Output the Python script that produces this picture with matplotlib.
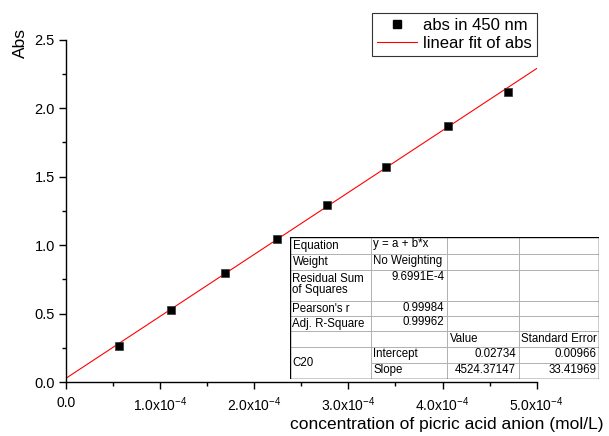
import matplotlib
matplotlib.use("Agg")
import matplotlib.pyplot as plt
from matplotlib.ticker import MultipleLocator, FixedLocator
from matplotlib.lines import Line2D

plt.rcParams['font.family'] = ['Liberation Sans', 'DejaVu Sans']
plt.rcParams['mathtext.fontset'] = 'custom'
plt.rcParams['mathtext.rm'] = 'Liberation Sans'
plt.rcParams['mathtext.it'] = 'Liberation Sans:italic'
plt.rcParams['mathtext.default'] = 'regular'

# data
conc = [0.563e-4, 1.116e-4, 1.69e-4, 2.24e-4, 2.77e-4, 3.40e-4, 4.06e-4, 4.69e-4]
absorb = [0.265, 0.524, 0.798, 1.045, 1.29, 1.57, 1.87, 2.12]
intercept = 0.02734
slope = 4524.37147
fit_x = [0.0, 5.0e-4]
xticks = [0.0, 1e-4, 2e-4, 3e-4, 4e-4, 5e-4]
xticklabels = ['0.0', r'1.0x10$^{-4}$', r'2.0x10$^{-4}$', r'3.0x10$^{-4}$',
               r'4.0x10$^{-4}$', r'5.0x10$^{-4}$']
yticks = [0.0, 0.5, 1.0, 1.5, 2.0, 2.5]

W, H = 609, 436
fig = plt.figure(figsize=(W/100, H/100), dpi=100)
L, R, B, T = 66, 536.7, 382, 39.7
ax = fig.add_axes([L/W, 1-B/H, (R-L)/W, (B-T)/H])

fit_y = [intercept + slope*x for x in fit_x]
ax.plot(fit_x, fit_y, color='#ff0000', lw=0.8, label='linear fit of abs', zorder=2)
ax.plot(conc, absorb, 's', color='black', ms=6, mec='#333333', mew=0.5,
        label='abs in 450 nm', linestyle='none', zorder=3)

ax.set_xlim(0, 5e-4)
ax.set_ylim(0, 2.5)
ax.spines['top'].set_visible(False)
ax.spines['right'].set_visible(False)
for s in ('left', 'bottom'):
    ax.spines[s].set_linewidth(1.0)
ax.xaxis.set_major_locator(FixedLocator(xticks))
ax.set_xticklabels(xticklabels)
ax.xaxis.set_minor_locator(MultipleLocator(0.5e-4))
ax.yaxis.set_major_locator(FixedLocator(yticks))
ax.yaxis.set_minor_locator(MultipleLocator(0.25))
ax.tick_params(which='major', direction='out', length=5, width=1, labelsize=10.5, pad=3)
ax.tick_params(which='minor', direction='out', length=3, width=1)
ax.tick_params(axis='x', labelsize=10, pad=5)

fig.text(604/W, 1-424/H, 'concentration of picric acid anion (mol/L)', ha='right',
         va='center', fontsize=12.5)
fig.text(20/W, 1-43/H, 'Abs', rotation=90, ha='center', va='center', fontsize=12.5)

handles = [Line2D([], [], marker='s', color='black', ms=6, linestyle='none'),
           Line2D([], [], color='#ff0000', lw=0.8)]
leg = fig.legend(handles, ['abs in 450 nm', 'linear fit of abs'],
                 loc='upper right', bbox_to_anchor=(537/W, 1-13/H),
                 frameon=True, fancybox=False, fontsize=12, borderpad=0.3,
                 labelspacing=0.2, handlelength=2.4, handletextpad=0.4,
                 borderaxespad=0)
leg.get_frame().set_edgecolor('black')
leg.get_frame().set_linewidth(0.8)

# table
tx0, tx1 = 290, 599
ty0, ty1 = 237.3, 378.7
tab = fig.add_axes([tx0/W, 1-ty1/H, (tx1-tx0)/W, (ty1-ty0)/H])
tab.set_xlim(tx0, tx1)
tab.set_ylim(ty1, ty0)
tab.axis('off')
tab.add_patch(plt.Rectangle((tx0, ty0), tx1-tx0, ty1-ty0, facecolor='white',
                            edgecolor='none', zorder=0))
cols = [290, 370.7, 447, 518.7, 599]
rows = [237.3, 254, 270, 301.3, 316, 331.3, 347.3, 362.7, 378.7]
gc = '#b0b0b0'
for y in rows[1:-1]:
    x_start = cols[1] if abs(y-362.7) < 0.1 else tx0
    tab.plot([x_start, tx1], [y, y], color=gc, lw=0.7)
for x in cols[1:-1]:
    tab.plot([x, x], [ty0, ty1], color=gc, lw=0.7)
tab.plot([tx0, tx1, tx1, tx0, tx0], [ty0, ty0, ty1, ty1, ty0], color='black', lw=1.0)

fs = 8.3
def lt(col, row, s, va_off=2.5):
    tab.text(cols[col]+2.5, rows[row]+va_off, s, ha='left', va='top', fontsize=fs)
def rt(col, row, s, va_off=1.5):
    tab.text(cols[col+1]-2.5, rows[row]+va_off, s, ha='right', va='top', fontsize=fs)

lt(0, 0, 'Equation'); lt(1, 0, 'y = a + b*x', 1.0)
lt(0, 1, 'Weight'); lt(1, 1, 'No Weighting', 1.0)
tab.text(cols[0]+2.5, rows[2]+2.5, 'Residual Sum\nof Squares', ha='left', va='top',
         fontsize=fs, linespacing=1.0)
rt(1, 2, '9.6991E-4', 1.0)
lt(0, 3, "Pearson's r", 1.5); rt(1, 3, '0.99984', 0.3)
lt(0, 4, 'Adj. R-Square', 1.5); rt(1, 4, '0.99962', 0.3)
lt(2, 5, 'Value', 1.5); lt(3, 5, 'Standard Error', 1.5)
tab.text(cols[0]+2.5, (rows[6]+rows[8])/2, 'C20', ha='left', va='center', fontsize=fs)
lt(1, 6, 'Intercept', 1.0); rt(2, 6, '0.02734', 1.0); rt(3, 6, '0.00966', 1.0)
lt(1, 7, 'Slope', 1.0); rt(2, 7, '4524.37147', 1.0); rt(3, 7, '33.41969', 1.0)

fig.savefig('out.png', dpi=100)
